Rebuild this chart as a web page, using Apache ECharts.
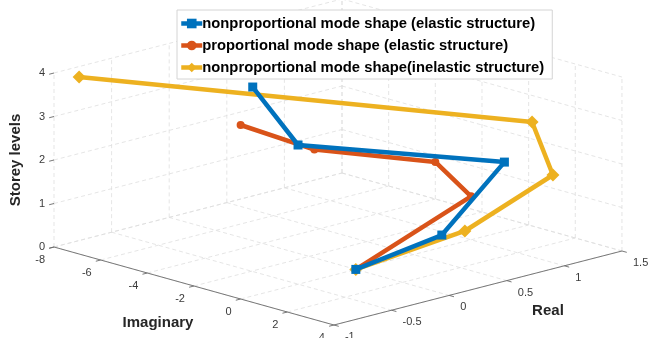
<!DOCTYPE html>
<html>
<head>
<meta charset="utf-8">
<title>Mode shapes</title>
<script src="https://cdn.jsdelivr.net/npm/echarts@6/dist/echarts.min.js"></script>
<style>
  html, body { margin: 0; padding: 0; background: #fff; }
  #chart { width: 649px; height: 338px; }
</style>
</head>
<body>
<div id="chart"></div>
<script>
// ---- axis ticks ----
const imagTicks = [-8, -6, -4, -2, 0, 2, 4];
const realTicks = [-1, -0.5, 0, 0.5, 1, 1.5];
const storeyTicks = [0, 1, 2, 3, 4];
const imagTickLabels = ['-8', '-6', '-4', '-2', '0', '2', '4'];
const realTickLabels = ['-1', '-0.5', '0', '0.5', '1', '1.5'];
const storeyTickLabels = ['0', '1', '2', '3', '4'];

// ---- mode shape values per storey level ----
const storeys = [0, 1, 2, 3, 4];
const npElasticReal = [0, 0.24, 1.0, -0.36, -0.33];
const npElasticImag = [0, 2.5, 1.43, -0.7, -2.79];
const pElasticReal = [0, 1.0, 0.69, -0.36, -1.0];
const pElasticImag = [0, 0, 0, 0, 0];
const npInelasticReal = [0, 0.41, 1.01, 1.07, -0.95];
const npInelasticImag = [0, 2.65, 3.46, 2.27, -7.17];

const seriesNames = [
  'nonproportional mode shape (elastic structure)',
  'proportional mode shape (elastic structure)',
  'nonproportional mode shape(inelastic structure)'
];
const seriesColors = ['#0072BD', '#D95319', '#EDB120'];

// ---- oblique 3D view: imaginary / real / storey onto the view plane ----
const view = {
  ox: 54, oy: 247,          // corner at (imag min, real min, storey 0)
  iu: [23.33, 6.5],         // per unit of Imaginary
  ru: [115.2, -29.6],       // per unit of Real
  zu: [0, -43.5]            // per storey
};
const iMin = imagTicks[0], iMax = imagTicks[imagTicks.length - 1];
const rMin = realTicks[0], rMax = realTicks[realTicks.length - 1];
const zMin = storeyTicks[0], zMax = storeyTicks[storeyTicks.length - 1];

function project(im, re, st) {
  const a = im - iMin, b = re - rMin, c = st - zMin;
  return [
    view.ox + a * view.iu[0] + b * view.ru[0] + c * view.zu[0],
    view.oy + a * view.iu[1] + b * view.ru[1] + c * view.zu[1]
  ];
}
function toPlane(imag, real) {
  return storeys.map((s, k) => project(imag[k], real[k], s));
}

const FONT = '"Liberation Sans", Arial, Helvetica, sans-serif';
const gridStyle = { stroke: '#dedede', lineWidth: 0.8, lineDash: [4, 3], fill: null };
const axisStyle = { stroke: '#6a6a6a', lineWidth: 0.9, fill: null };
const tickLabelStyle = { fill: '#3a3a3a', fontSize: 11, fontFamily: FONT };
const titleStyle = { fill: '#262626', fontSize: 15, fontWeight: 'bold', fontFamily: FONT };

function unit(v, len) {
  const n = Math.hypot(v[0], v[1]);
  return [v[0] / n * len, v[1] / n * len];
}

function renderBox(params, api) {
  const children = [];
  const P = (i, r, z) => api.coord(project(i, r, z));
  const seg = (p, q, style) => children.push({
    type: 'line', shape: { x1: p[0], y1: p[1], x2: q[0], y2: q[1] }, style: style
  });
  const text = (p, str, extra) => children.push({
    type: 'text', x: p[0], y: p[1],
    style: Object.assign({ text: str }, tickLabelStyle, extra)
  });

  // floor grid
  imagTicks.forEach(i => seg(P(i, rMin, zMin), P(i, rMax, zMin), gridStyle));
  realTicks.forEach(r => seg(P(iMin, r, zMin), P(iMax, r, zMin), gridStyle));
  // back wall at imag = min
  realTicks.forEach(r => seg(P(iMin, r, zMin), P(iMin, r, zMax), gridStyle));
  storeyTicks.forEach(z => seg(P(iMin, rMin, z), P(iMin, rMax, z), gridStyle));
  // back wall at real = max
  imagTicks.forEach(i => seg(P(i, rMax, zMin), P(i, rMax, zMax), gridStyle));
  storeyTicks.forEach(z => seg(P(iMin, rMax, z), P(iMax, rMax, z), gridStyle));

  // axis lines
  seg(P(iMin, rMin, zMin), P(iMax, rMin, zMin), axisStyle);
  seg(P(iMax, rMin, zMin), P(iMax, rMax, zMin), axisStyle);

  const dReal = unit([-view.ru[0], -view.ru[1]], 5);
  const dImag = unit(view.iu, 5);

  // Imaginary ticks and labels
  imagTicks.forEach((i, k) => {
    const p = P(i, rMin, zMin);
    seg(p, [p[0] + dReal[0], p[1] + dReal[1]], axisStyle);
    text([p[0] - 9, p[1] + 13], imagTickLabels[k], { align: 'right', verticalAlign: 'middle' });
  });
  // Real ticks and labels
  realTicks.forEach((r, k) => {
    const p = P(iMax, r, zMin);
    seg(p, [p[0] + dImag[0], p[1] + dImag[1]], axisStyle);
    text([p[0] + 11, p[1] + 12], realTickLabels[k], { align: 'left', verticalAlign: 'middle' });
  });
  // Storey ticks and labels
  storeyTicks.forEach((z, k) => {
    const p = P(iMin, rMin, z);
    seg(p, [p[0] + dReal[0], p[1] + dReal[1]], axisStyle);
    text([p[0] - 9, p[1]], storeyTickLabels[k], { align: 'right', verticalAlign: 'middle' });
  });

  // axis titles
  const zMid = P(iMin, rMin, (zMin + zMax) / 2);
  children.push({
    type: 'text', x: zMid[0] - 38, y: zMid[1], rotation: Math.PI / 2,
    style: Object.assign({ text: 'Storey levels', align: 'center', verticalAlign: 'middle' }, titleStyle)
  });
  const iMid = P((iMin + iMax) / 2, rMin, zMin);
  children.push({
    type: 'text', x: iMid[0] - 36, y: iMid[1] + 37,
    style: Object.assign({ text: 'Imaginary', align: 'center', verticalAlign: 'middle' }, titleStyle)
  });
  const rMid = P(iMax, (rMin + rMax) / 2, zMin);
  children.push({
    type: 'text', x: rMid[0] + 70, y: rMid[1] + 23,
    style: Object.assign({ text: 'Real', align: 'center', verticalAlign: 'middle' }, titleStyle)
  });

  return { type: 'group', children: children };
}

function lineSeries(name, color, symbol, size, imag, real, z) {
  return {
    name: name,
    type: 'line',
    z: z,
    data: toPlane(imag, real),
    symbol: symbol,
    symbolSize: size,
    showSymbol: true,
    lineStyle: { color: color, width: 4.5 },
    itemStyle: { color: color, borderWidth: 0 },
    emphasis: { disabled: true },
    animation: false
  };
}

const chart = echarts.init(document.getElementById('chart'), null, { renderer: 'canvas' });
chart.setOption({
  animation: false,
  backgroundColor: '#ffffff',
  grid: { left: 0, top: 0, width: 649, height: 338, containLabel: false },
  xAxis: { type: 'value', min: 0, max: 649, show: false },
  yAxis: { type: 'value', min: 0, max: 338, inverse: true, show: false },
  legend: {
    orient: 'vertical',
    left: 177, top: 10,
    padding: [6, 8, 4, 2],
    itemGap: 7,
    itemWidth: 21,
    itemHeight: 12,
    backgroundColor: '#ffffff',
    borderColor: '#d4d4d4',
    borderWidth: 1,
    borderRadius: 0,
    z: 10,
    selectedMode: false,
    data: seriesNames,
    lineStyle: { width: 4.5 },
    textStyle: { fontSize: 14.8, fontWeight: 'bold', color: '#000', fontFamily: FONT, padding: [0, 0, 0, -5] }
  },
  series: [
    {
      type: 'custom',
      name: 'box',
      silent: true,
      z: 1,
      coordinateSystem: 'cartesian2d',
      data: [[0, 0]],
      renderItem: renderBox
    },
    lineSeries(seriesNames[0], seriesColors[0], 'rect', 9, npElasticImag, npElasticReal, 5),
    lineSeries(seriesNames[1], seriesColors[1], 'circle', 8, pElasticImag, pElasticReal, 4),
    lineSeries(seriesNames[2], seriesColors[2], 'diamond', 13, npInelasticImag, npInelasticReal, 3)
  ]
});
</script>
</body>
</html>
